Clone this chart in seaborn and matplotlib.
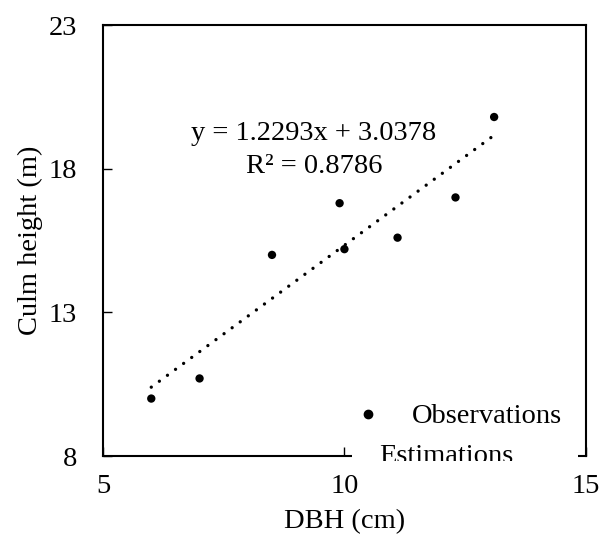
import numpy as np
import pandas as pd
import matplotlib
matplotlib.use("Agg")
import matplotlib.pyplot as plt
from matplotlib.lines import Line2D
from matplotlib.transforms import Bbox, TransformedBbox
import seaborn as sns

# ======================
# DATA
# ======================
dbh_cm = [6.0, 7.0, 8.5, 9.9, 10.0, 11.1, 12.3, 13.1]
culm_height_m = [10.0, 10.7, 15.0, 16.8, 15.2, 15.6, 17.0, 19.8]
equation_text = "y = 1.2293x + 3.0378\nR\u00b2 = 0.8786"
legend_labels = ["Observations", "Estimations"]
x_ticks = [5, 10, 15]
y_ticks = [8, 13, 18, 23]

df = pd.DataFrame({"DBH": dbh_cm, "Height": culm_height_m})

# ======================
# STYLE
# ======================
sns.set_style("ticks")
plt.rcParams["font.family"] = ["Liberation Serif", "DejaVu Serif"]
plt.rcParams["text.color"] = "black"
plt.rcParams["axes.labelcolor"] = "black"
FS = 20.5

fig = plt.figure(figsize=(6.04, 5.46), dpi=100)
ax = fig.add_axes([0.1705, 0.1648, 0.7995, 0.7893])

# observations + dotted linear trend (estimations)
sns.scatterplot(data=df, x="DBH", y="Height", ax=ax, color="black",
                s=36, edgecolor="none", zorder=3, legend=False)
sns.regplot(data=df, x="DBH", y="Height", ax=ax, scatter=False, ci=None,
            color="black",
            line_kws=dict(linestyle=(0, (0.01, 3)), linewidth=2.4,
                          dash_capstyle="round"))

ax.set_xlim(x_ticks[0], x_ticks[-1])
ax.set_ylim(y_ticks[0], y_ticks[-1])
ax.set_xticks(x_ticks)
ax.set_yticks(y_ticks)
ax.tick_params(axis="both", direction="in", length=6.5, width=1,
               labelsize=FS, colors="black")
ax.tick_params(axis="y", pad=18.5)
ax.tick_params(axis="x", pad=13)
for sp in ax.spines.values():
    sp.set_visible(True)
    sp.set_linewidth(1.5)
    sp.set_color("black")

ax.set_xlabel("DBH (cm)", fontsize=FS, labelpad=7)
ax.set_ylabel("Culm height (m)", fontsize=FS, labelpad=4)

ax.text(0.437, 0.71, equation_text, transform=ax.transAxes, ha="center",
        va="center", fontsize=FS, linespacing=1.38)

# ======================
# LEGEND (white box sitting over the bottom spine, cut at the bottom)
# ======================
handles = [Line2D([], [], marker="o", linestyle="none", color="black",
                  markersize=6),
           Line2D([], [], linestyle="none")]
leg = ax.legend(handles, legend_labels, loc="upper left",
                bbox_to_anchor=(352 / 604, 1 - 395 / 546, 226 / 604, 0),
                bbox_transform=fig.transFigure, borderaxespad=0,
                mode="expand", fontsize=FS, frameon=True, fancybox=False,
                framealpha=1, facecolor="white", edgecolor="none",
                borderpad=0.3, handlelength=0.5, handletextpad=0.17,
                labelspacing=0.47)
# push the Observations label right of its marker
col = leg._legend_handle_box.get_children()[0]
col.get_children()[0].sep += 23

clip = TransformedBbox(Bbox([[0, 85 / 546], [1, 1]]), fig.transFigure)
for art in [leg.legendPatch] + leg.get_texts() + list(leg.legend_handles):
    art.set_clip_box(clip)
    art.set_clip_on(True)

fig.savefig("out.png", dpi=100)
